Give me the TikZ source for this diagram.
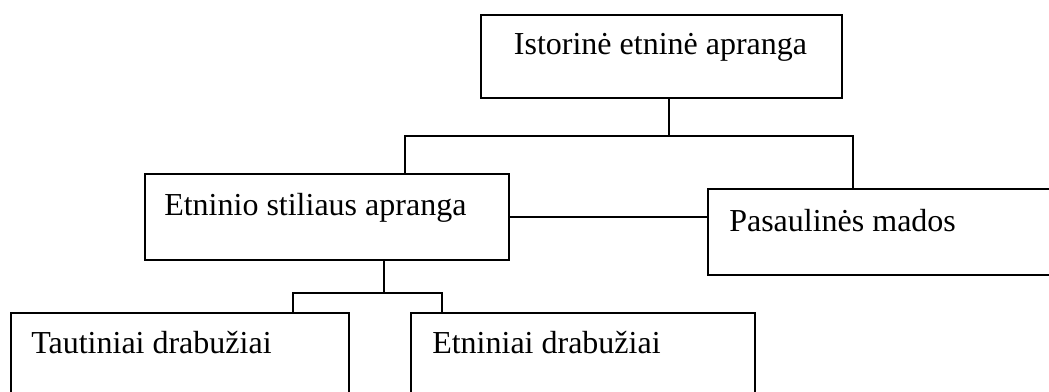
\documentclass[tikz,border=0pt]{standalone}
\usepackage{fontspec}
\setmainfont{Liberation Serif}
\begin{document}
\begin{tikzpicture}
  [x=0.75pt,y=-0.75pt,
   box/.style={rectangle,draw=black,line width=1.4pt,anchor=north west,inner sep=0pt},
   caption/.style={inner sep=0pt,font=\fontsize{24}{28}\selectfont}]
\useasboundingbox (0,0) rectangle (1049,392); % keep page size
\clip (0,0) rectangle (1049,392);
\node at (480,14) (hist) [box, minimum width=270.75pt, minimum height=62.25pt] {};
\node at (144,173) (ethn) [box, minimum width=273pt, minimum height=64.5pt] {};
\node at (707,188) (pas) [box, minimum width=300pt, minimum height=64.5pt] {};
\node at (10,312) (taut) [box, minimum width=253.5pt, minimum height=75pt] {};
\node at (410,312) (etn) [box, minimum width=258pt, minimum height=75pt] {};
\node at (660.5,55) (histtext) [caption, anchor=base] {Istorinė etninė apranga};
\node at (164,215) (ethntext) [caption, anchor=base west] {Etninio stiliaus apranga};
\node at (729,231) (pastext) [caption, anchor=base west] {Pasaulinės mados};
\node at (31,353) (tauttext) [caption, anchor=base west] {Tautiniai drabužiai};
\node at (432,353) (etntext) [caption, anchor=base west] {Etniniai drabužiai};
%
\coordinate (barM) at (669,136);
\coordinate (barL) at (405,136);
\coordinate (barR) at (853,136);
\coordinate (subM) at (384,293);
\coordinate (subL) at (293,293);
\coordinate (subR) at (442,293);
\begin{scope}[line width=1.4pt]
\draw (hist.south -| barM) -- (barM);
\draw (ethn.north -| barL) |- (barR) -- (pas.north -| barR);
\draw (ethn.east) -- (ethn.east -| pas.west);
\draw (ethn.south -| subM) -- (subM);
\draw (taut.north -| subL) |- (subR) -- (etn.north -| subR);
\end{scope}
\end{tikzpicture}
\end{document}
